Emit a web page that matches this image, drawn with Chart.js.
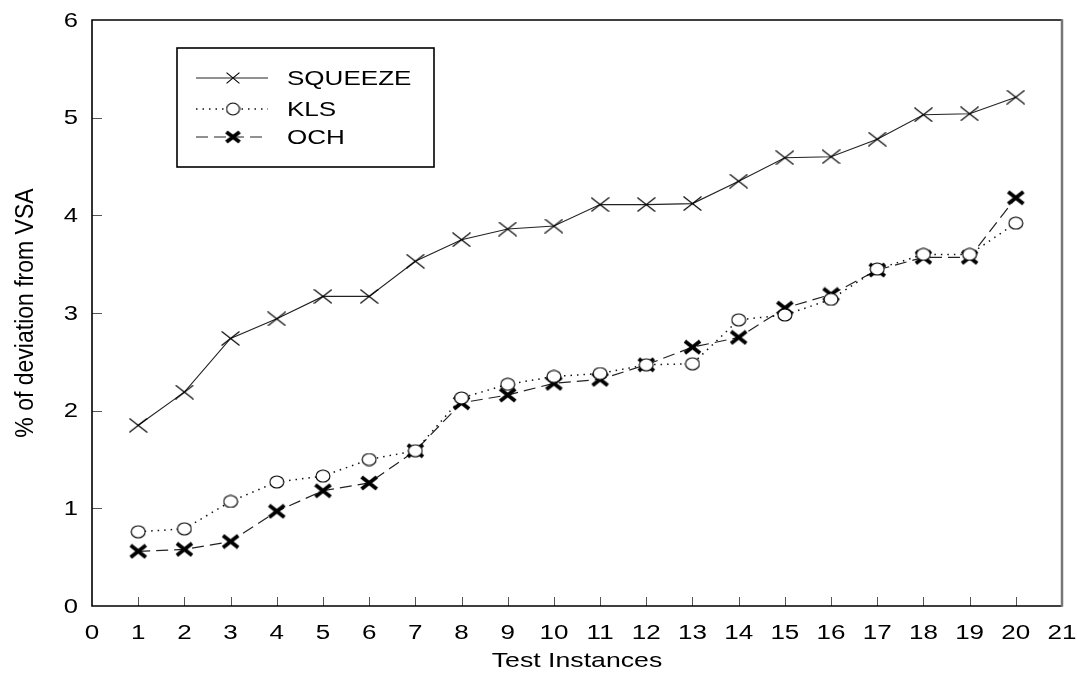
<!doctype html>
<html lang="en">
<head>
  <meta charset="utf-8">
  <title>Deviation from VSA</title>
  <style>
    html, body { margin: 0; padding: 0; background: #fff; }
    #wrap { width: 1077px; height: 690px; }
  </style>
</head>
<body>
  <div id="wrap"><canvas id="canvas" width="1077" height="690"></canvas></div>
  <script src="https://cdn.jsdelivr.net/npm/chart.js@4/dist/chart.umd.min.js"></script>
  <script>
    // test instances 1..20
    var instances = [1, 2, 3, 4, 5, 6, 7, 8, 9, 10, 11, 12, 13, 14, 15, 16, 17, 18, 19, 20];
    var squeeze = [1.85, 2.19, 2.74, 2.94, 3.17, 3.17, 3.53, 3.75, 3.86, 3.89, 4.11, 4.11, 4.12, 4.35, 4.59, 4.60, 4.78, 5.03, 5.04, 5.21];
    var kls     = [0.76, 0.79, 1.07, 1.27, 1.33, 1.50, 1.59, 2.13, 2.27, 2.35, 2.38, 2.47, 2.48, 2.93, 2.98, 3.14, 3.45, 3.60, 3.60, 3.92];
    var och     = [0.56, 0.58, 0.66, 0.97, 1.18, 1.26, 1.59, 2.08, 2.16, 2.28, 2.32, 2.47, 2.65, 2.75, 3.05, 3.19, 3.44, 3.57, 3.57, 4.18];
    var xTicks = [0, 1, 2, 3, 4, 5, 6, 7, 8, 9, 10, 11, 12, 13, 14, 15, 16, 17, 18, 19, 20, 21];
    var yTicks = [0, 1, 2, 3, 4, 5, 6];
    var xTitle = 'Test Instances';
    var yTitle = '% of deviation from VSA';

    var FONT = '"Liberation Sans", Arial, sans-serif';

    function pts(vals) {
      return vals.map(function (v, i) { return { x: instances[i], y: v }; });
    }

    // the original picture is a bit wider than tall, so markers are drawn as small canvases
    function marker(kind, w, h, lw) {
      var c = document.createElement('canvas');
      c.width = w; c.height = h;
      var g = c.getContext('2d');
      g.strokeStyle = '#000';
      g.lineWidth = lw;
      var p = kind === 'x' ? lw / 2 : lw / 2 + 0.5;
      if (kind === 'x') {
        g.beginPath();
        g.moveTo(p, p); g.lineTo(w - p, h - p);
        g.moveTo(p, h - p); g.lineTo(w - p, p);
        g.stroke();
      } else {
        g.fillStyle = '#fff';
        g.beginPath();
        g.ellipse(w / 2, h / 2, w / 2 - p, h / 2 - p, 0, 0, Math.PI * 2);
        g.fill(); g.stroke();
      }
      return c;
    }

    var mSqueeze = marker('x', 19, 15, 1.1);
    var mKls = marker('o', 16, 14, 1.1);
    var mOch = marker('x', 19, 16, 3.8);
    var legendMarks = [marker('x', 14, 12, 1.1), marker('o', 15, 14, 1.1), marker('x', 17, 14, 3.8)];

    var series = [
      { label: 'SQUEEZE', data: pts(squeeze), borderColor: '#222', borderWidth: 1.1, borderDash: [],
        pointStyle: mSqueeze },
      { label: 'KLS', data: pts(kls), borderColor: '#111', borderWidth: 1.5, borderDash: [1.5, 5],
        pointStyle: mKls },
      { label: 'OCH', data: pts(och), borderColor: '#222', borderWidth: 1.2, borderDash: [12, 6],
        pointStyle: mOch }
    ];

    function stretchText(ctx, text, x, y, sx, align) {
      ctx.save();
      ctx.translate(x, y);
      ctx.scale(sx, 1);
      ctx.textAlign = align;
      ctx.fillText(text, 0, 0);
      ctx.restore();
    }

    var frameAndText = {
      id: 'frameAndText',
      afterDraw: function (chart) {
        var ctx = chart.ctx, a = chart.chartArea;
        var xs = chart.scales.x, ys = chart.scales.y;
        ctx.save();
        ctx.strokeStyle = '#555';
        ctx.lineWidth = 1;
        xTicks.forEach(function (t) {
          if (t === 0 || t === 21) return;
          var px = Math.round(xs.getPixelForValue(t)) + 0.5;
          ctx.beginPath(); ctx.moveTo(px, a.bottom); ctx.lineTo(px, a.bottom - 9); ctx.stroke();
        });
        yTicks.forEach(function (t) {
          if (t === 0 || t === 6) return;
          var py = Math.round(ys.getPixelForValue(t)) + 0.5;
          ctx.beginPath(); ctx.moveTo(a.left, py); ctx.lineTo(a.left + 10, py); ctx.stroke();
        });
        // frame
        ctx.strokeStyle = '#000';
        ctx.lineWidth = 1.6;
        ctx.beginPath();
        ctx.moveTo(a.right, a.top); ctx.lineTo(a.left, a.top); ctx.lineTo(a.left, a.bottom); ctx.lineTo(a.right, a.bottom);
        ctx.stroke();
        ctx.strokeStyle = '#777';
        ctx.lineWidth = 2.5;
        ctx.beginPath(); ctx.moveTo(a.right, a.top - 0.8); ctx.lineTo(a.right, a.bottom + 0.8); ctx.stroke();

        // tick labels and axis titles
        ctx.fillStyle = '#000';
        ctx.textBaseline = 'middle';
        ctx.font = '20px ' + FONT;
        xTicks.forEach(function (t) {
          stretchText(ctx, String(t), xs.getPixelForValue(t), a.bottom + 27, 1.3, 'center');
        });
        ctx.font = '21px ' + FONT;
        yTicks.forEach(function (t) {
          stretchText(ctx, String(t), a.left - 14, ys.getPixelForValue(t) + 1, 1.22, 'right');
        });
        ctx.textBaseline = 'alphabetic';
        ctx.font = '21px ' + FONT;
        stretchText(ctx, xTitle, (a.left + a.right) / 2, 667, 1.27, 'center');
        ctx.save();
        ctx.translate(33, (a.top + a.bottom) / 2);
        ctx.scale(1.15, 1);
        ctx.rotate(-Math.PI / 2);
        ctx.font = '23px ' + FONT;
        ctx.textAlign = 'center';
        ctx.fillText(yTitle, 0, 0);
        ctx.restore();

        // legend box
        var bx = 177, by = 48, bw = 257, bh = 119;
        ctx.strokeStyle = '#000';
        ctx.lineWidth = 1.6;
        ctx.fillStyle = '#fff';
        ctx.fillRect(bx, by, bw, bh);
        ctx.strokeRect(bx, by, bw, bh);
        var rows = [78, 109, 137];
        chart.data.datasets.forEach(function (ds, i) {
          var y = rows[i];
          ctx.save();
          ctx.strokeStyle = ds.borderColor;
          ctx.lineWidth = ds.borderWidth;
          ctx.setLineDash(ds.borderDash);
          ctx.beginPath(); ctx.moveTo(196, y); ctx.lineTo(268, y); ctx.stroke();
          ctx.restore();
          var m = legendMarks[i];
          ctx.drawImage(m, 233 - m.width / 2, y - m.height / 2);
          ctx.fillStyle = '#000';
          ctx.font = '21px ' + FONT;
          ctx.textBaseline = 'middle';
          stretchText(ctx, ds.label, 287, y + 1, 1.24, 'left');
        });
        ctx.restore();
      }
    };

    new Chart(document.getElementById('canvas'), {
      type: 'line',
      data: { datasets: series },
      plugins: [frameAndText],
      options: {
        responsive: false,
        animation: false,
        layout: { padding: { top: 20, right: 15, left: 0, bottom: 0 } },
        plugins: { legend: { display: false }, tooltip: { enabled: false } },
        scales: {
          x: {
            type: 'linear', min: 0, max: 21,
            afterFit: function (s) { s.height = 84; s.paddingLeft = 0; s.paddingRight = 0; },
            afterBuildTicks: function (s) { s.ticks = xTicks.map(function (v) { return { value: v }; }); },
            grid: { display: false, drawTicks: false },
            border: { display: false },
            ticks: { display: false }
          },
          y: {
            type: 'linear', min: 0, max: 6,
            afterFit: function (s) { s.width = 92; s.paddingTop = 0; s.paddingBottom = 0; },
            afterBuildTicks: function (s) { s.ticks = yTicks.map(function (v) { return { value: v }; }); },
            grid: { display: false, drawTicks: false },
            border: { display: false },
            ticks: { display: false }
          }
        }
      }
    });
  </script>
</body>
</html>
